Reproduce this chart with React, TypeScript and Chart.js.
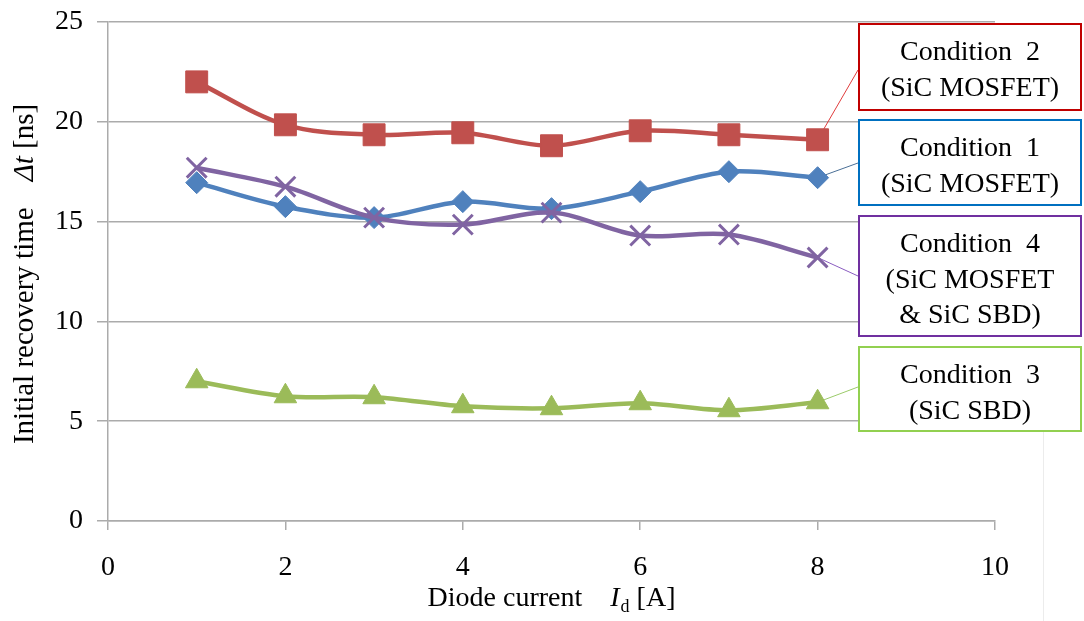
import React, { useEffect, useRef } from 'react';
import { Chart, registerables } from 'chart.js';

Chart.register(...registerables);

// Diode current [A]
const currents = [1, 2, 3, 4, 5, 6, 7, 8];
// Initial recovery time Δt [ns] per test condition
const condition1 = [16.95, 15.75, 15.2, 16.0, 15.65, 16.5, 17.5, 17.2];
const condition2 = [22.0, 19.85, 19.35, 19.45, 18.8, 19.55, 19.35, 19.1];
const condition3 = [7.0, 6.25, 6.2, 5.75, 5.65, 5.9, 5.55, 5.95];
const condition4 = [17.7, 16.75, 15.2, 14.85, 15.45, 14.3, 14.35, 13.2];

const xTicks = [0, 2, 4, 6, 8, 10];
const yTicks = [0, 5, 10, 15, 20, 25];

// Callout texts
const label1 = ['Condition  1', '(SiC MOSFET)'];
const label2 = ['Condition  2', '(SiC MOSFET)'];
const label3 = ['Condition  3', '(SiC SBD)'];
const label4 = ['Condition  4', '(SiC MOSFET', '& SiC SBD)'];

const SERIF = "'Times New Roman', 'Liberation Serif', serif";

const RED = '#C0504D';
const BLUE = '#4F81BD';
const PURPLE = '#8064A2';
const GREEN = '#9BBB59';

type Callout = {
  key: string;
  lines: string[];
  stroke: string;
  top: number;
  bottom: number;
  anchorY: number;
};

const BOX_LEFT = 858;
const BOX_RIGHT = 1082;

const callouts: Callout[] = [
  { key: 'c2', lines: label2, stroke: '#C00000', top: 23, bottom: 111, anchorY: 70 },
  { key: 'c1', lines: label1, stroke: '#0070C0', top: 119, bottom: 206, anchorY: 163 },
  { key: 'c4', lines: label4, stroke: '#7030A0', top: 215, bottom: 337, anchorY: 276 },
  { key: 'c3', lines: label3, stroke: '#92D050', top: 346, bottom: 432, anchorY: 387 },
];

const leaderColors: Record<string, string> = {
  c2: '#E03C3C',
  c1: '#4A6F96',
  c4: '#8A5CC0',
  c3: '#9BCB6A',
};

function series(key: string, label: string, ys: number[], color: string, style: string, radius: number, pbw: number) {
  return {
    key,
    label,
    data: currents.map((x, i) => ({ x, y: ys[i] })),
    borderColor: color,
    backgroundColor: color,
    borderWidth: 4.5,
    pointStyle: style,
    pointRadius: radius,
    pointHoverRadius: radius,
    pointBackgroundColor: color,
    pointBorderColor: color,
    pointBorderWidth: pbw,
    tension: 0.33,
    fill: false,
  };
}

type Run = { text: string; font: string; dy?: number; gapAfter?: number };

function drawRuns(ctx: CanvasRenderingContext2D, runs: Run[], cx: number, baseline: number) {
  let total = 0;
  const widths = runs.map((r) => {
    ctx.font = r.font;
    const w = ctx.measureText(r.text).width + (r.gapAfter || 0);
    total += w;
    return w;
  });
  let x = cx - total / 2;
  ctx.textAlign = 'left';
  ctx.textBaseline = 'alphabetic';
  runs.forEach((r, i) => {
    ctx.font = r.font;
    ctx.fillText(r.text, x, baseline + (r.dy || 0));
    x += widths[i];
  });
}

const leaderPlugin = {
  id: 'leaders',
  beforeDatasetsDraw(chart: any) {
    const { ctx } = chart;
    ctx.save();
    ctx.lineWidth = 1;
    callouts.forEach((c) => {
      const idx = chart.data.datasets.findIndex((d: any) => d.key === c.key);
      const meta = chart.getDatasetMeta(idx);
      const pt = meta.data[meta.data.length - 1];
      ctx.strokeStyle = leaderColors[c.key];
      ctx.beginPath();
      ctx.moveTo(pt.x, pt.y);
      ctx.lineTo(BOX_LEFT, c.anchorY);
      ctx.stroke();
    });
    ctx.restore();
  },
};

const annotationPlugin = {
  id: 'annotations',
  afterDraw(chart: any) {
    const { ctx, chartArea } = chart;
    ctx.save();

    // faint frame edge at the lower right
    ctx.strokeStyle = '#ececec';
    ctx.lineWidth = 1;
    ctx.beginPath();
    ctx.moveTo(1043.5, 432);
    ctx.lineTo(1043.5, 621);
    ctx.stroke();

    // callout boxes
    callouts.forEach((c) => {
      ctx.fillStyle = '#ffffff';
      ctx.fillRect(BOX_LEFT, c.top, BOX_RIGHT - BOX_LEFT, c.bottom - c.top);
      ctx.strokeStyle = c.stroke;
      ctx.lineWidth = 2;
      ctx.strokeRect(BOX_LEFT + 1, c.top + 1, BOX_RIGHT - BOX_LEFT - 2, c.bottom - c.top - 2);
      ctx.fillStyle = '#000000';
      ctx.font = `28px ${SERIF}`;
      ctx.textAlign = 'center';
      ctx.textBaseline = 'alphabetic';
      c.lines.forEach((line, i) => {
        ctx.fillText(line, (BOX_LEFT + BOX_RIGHT) / 2, c.top + 37 + i * 35.5);
      });
    });

    // axis titles
    ctx.fillStyle = '#000000';
    const cx = (chartArea.left + chartArea.right) / 2;
    drawRuns(
      ctx,
      [
        { text: 'Diode current', font: `28px ${SERIF}`, gapAfter: 28 },
        { text: 'I', font: `italic 28px ${SERIF}`, gapAfter: 1 },
        { text: 'd', font: `18px ${SERIF}`, dy: 6 },
        { text: ' [A]', font: `28px ${SERIF}` },
      ],
      cx,
      606
    );

    ctx.save();
    ctx.translate(33, 274);
    ctx.rotate(-Math.PI / 2);
    drawRuns(
      ctx,
      [
        { text: 'Initial recovery time', font: `29px ${SERIF}`, gapAfter: 26 },
        { text: 'Δt', font: `italic 29px ${SERIF}` },
        { text: ' [ns]', font: `29px ${SERIF}` },
      ],
      0,
      0
    );
    ctx.restore();

    ctx.restore();
  },
};

export default function App() {
  const canvasRef = useRef<HTMLCanvasElement>(null);

  useEffect(() => {
    document.body.style.margin = '0';
    const canvas = canvasRef.current;
    if (!canvas) return;

    const gridColor = '#ababab';

    const chart = new Chart(canvas, {
      type: 'line',
      data: {
        datasets: [
          series('c4', 'Condition 4 (SiC MOSFET & SiC SBD)', condition4, PURPLE, 'crossRot', 14, 3),
          series('c1', 'Condition 1 (SiC MOSFET)', condition1, BLUE, 'rectRot', 11, 1),
          series('c2', 'Condition 2 (SiC MOSFET)', condition2, RED, 'rect', 15.5, 1),
          series('c3', 'Condition 3 (SiC SBD)', condition3, GREEN, 'triangle', 13, 1),
        ] as any,
      },
      options: {
        responsive: false,
        animation: false,
        events: [],
        layout: { padding: { left: 0, right: 89, top: 22, bottom: 0 } },
        plugins: {
          legend: { display: false },
          tooltip: { enabled: false },
        },
        scales: {
          x: {
            type: 'linear',
            min: 0,
            max: 10,
            afterBuildTicks: (scale: any) => {
              scale.ticks = xTicks.map((v) => ({ value: v }));
            },
            afterFit: (scale: any) => {
              scale.height = 100;
            },
            grid: {
              drawOnChartArea: false,
              drawTicks: true,
              tickLength: 9,
              color: gridColor,
              lineWidth: 1.5,
            },
            border: { display: true, color: gridColor, width: 1.5 },
            ticks: {
              color: '#000',
              padding: 21,
              maxRotation: 0,
              font: { family: SERIF, size: 28 },
            },
          },
          y: {
            type: 'linear',
            min: 0,
            max: 25,
            afterBuildTicks: (scale: any) => {
              scale.ticks = yTicks.map((v) => ({ value: v }));
            },
            afterFit: (scale: any) => {
              scale.width = 108;
              scale.paddingTop = 0;
              scale.paddingBottom = 0;
            },
            grid: {
              drawOnChartArea: true,
              drawTicks: true,
              tickLength: 11,
              color: gridColor,
              lineWidth: 1.5,
            },
            border: { display: true, color: gridColor, width: 1.5 },
            ticks: {
              color: '#000',
              padding: 14,
              font: { family: SERIF, size: 28 },
            },
          },
        },
      } as any,
      plugins: [leaderPlugin, annotationPlugin],
    });

    return () => chart.destroy();
  }, []);

  return (
    <div style={{ position: 'absolute', left: 0, top: 0, width: 1084, height: 621, background: '#ffffff' }}>
      <canvas ref={canvasRef} width={1084} height={621} style={{ display: 'block', width: 1084, height: 621 }} />
    </div>
  );
}
